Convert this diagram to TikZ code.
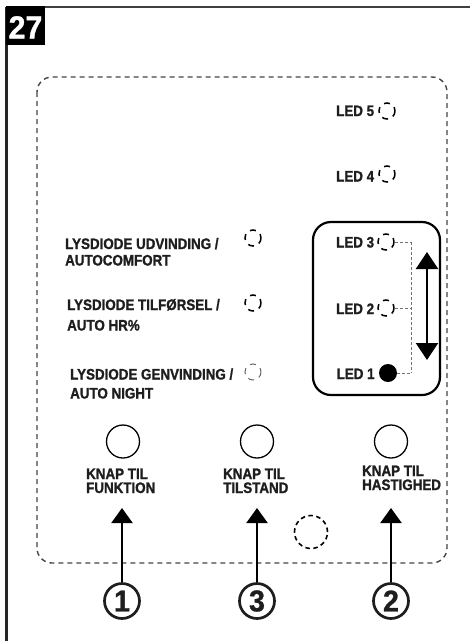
\documentclass[tikz,border=0pt]{standalone}
\usepackage{fontspec}
\setmainfont{Liberation Sans}
\newfontfamily\labfont{Liberation Sans Bold}[FakeStretch=0.88,FakeBold=1.2]
\newfontfamily\numfont{Liberation Sans Bold}[FakeStretch=0.95,FakeBold=1.0]
\usetikzlibrary{arrows.meta}
\definecolor{ink}{HTML}{1E1E1E}
\definecolor{dashgray}{HTML}{444444}
\begin{document}
\begin{tikzpicture}[x=1pt,y=-1pt,
  lab/.style={anchor=base west,inner sep=0pt,text=ink,font=\labfont\fontsize{15.2}{16}\selectfont},
  ledoff/.style={draw=black,line width=1.5pt,dash pattern=on 6pt off 5.5pt,dash phase=2pt,circle,minimum size=16pt,inner sep=0pt},
  ledfaint/.style={ledoff,draw=black!60,line width=1pt},
  knob/.style={draw=black,line width=1.3pt,circle,minimum size=33pt,inner sep=0pt},
  num/.style={draw=ink,line width=2.7pt,circle,minimum size=35pt,inner sep=0pt,text=ink,font=\numfont\fontsize{30}{30}\selectfont},
  uparrow/.style={line width=2.2pt,draw=black,-{Triangle[length=15pt,width=21pt]}},
  guide/.style={draw=black!55,line width=0.8pt,dash pattern=on 3pt off 2pt}]
\useasboundingbox (0,0) rectangle (470,641);
% outer frame
\draw[line width=1.6pt,draw=black!75] (6,7) -- (470,7);
\draw[line width=2.4pt,draw=black!85] (6.5,7) -- (6.5,641);
\fill[black] (6,6) rectangle (44.5,45);
\node[text=white,font=\numfont\fontsize{32}{32}\selectfont,inner sep=0pt,anchor=base] (fig) at (25.5,38.5) {27};
% dashed panel outline
\draw[draw=dashgray,line width=1.4pt,dash pattern=on 5pt off 4pt,rounded corners=15pt] (37,77) rectangle (447,563);
% LED 5 and 4
\node[lab] (l5) at (336,116) {LED 5};
\node[ledoff] (c5) at (387,111) {};
\node[lab] (l4) at (336,181.5) {LED 4};
\node[ledoff] (c4) at (387,174) {};
% left indicator labels
\node[lab] (u1) at (65,249) {LYSDIODE UDVINDING /};
\node[lab] (u2) at (65,265.5) {AUTOCOMFORT};
\node[ledoff] (cu) at (253,238) {};
\node[lab] (t1) at (67,310) {LYSDIODE TILFØRSEL /};
\node[lab] (t2) at (67,330.5) {AUTO HR\%};
\node[ledoff] (ct) at (253,303) {};
\node[lab] (g1) at (70,379.5) {LYSDIODE GENVINDING /};
\node[lab] (g2) at (70,398.5) {AUTO NIGHT};
\node[ledfaint] (cg) at (253,372) {};
% speed box
\draw[line width=2.2pt,rounded corners=18pt] (313,222) rectangle (440,395);
\node[lab] (l3) at (336,247.5) {LED 3};
\node[ledoff] (c3) at (386,242) {};
\node[lab] (l2) at (336,314) {LED 2};
\node[ledoff] (c2) at (386,308) {};
\node[lab] (l1) at (336.5,379) {LED 1};
\node[circle,fill=black,minimum size=18pt,inner sep=0pt] (c1) at (388,373) {};
\coordinate (g3) at (411.5,242);
\coordinate (g2c) at (411.5,308);
\coordinate (g1c) at (411.5,373);
\draw[guide] (c3.east) -- (g3);
\draw[guide] (c2.east) -- (g2c);
\draw[guide] (c1.east) -- (g1c);
\draw[guide] (g3) -- (g1c);
\coordinate (atop) at (427,252);
\coordinate (abot) at (427,360);
\draw[line width=2.2pt,{Triangle[length=17pt,width=22pt]}-{Triangle[length=17pt,width=22pt]}] (atop) -- (abot);
% buttons
\node[knob] (b1) at (123,441.5) {};
\node[knob] (b3) at (257,441.5) {};
\node[knob] (b2) at (391,441.5) {};
\node[lab] (k1a) at (86,479) {KNAP TIL};
\node[lab] (k1b) at (86,493) {FUNKTION};
\node[lab] (k3a) at (223,479) {KNAP TIL};
\node[lab] (k3b) at (223,493) {TILSTAND};
\node[lab] (k2a) at (362,476) {KNAP TIL};
\node[lab] (k2b) at (362,490) {HASTIGHED};
% sensor
\node[draw=black,line width=1.6pt,dash pattern=on 4.5pt off 3.5pt,circle,minimum size=33pt,inner sep=0pt] (sens) at (311,532) {};
% numbered callouts
\node[num] (n1) at (122,601) {1};
\node[num] (n3) at (257,601) {3};
\node[num] (n2) at (391,601) {2};
\coordinate (p1) at (122,508);
\coordinate (p3) at (257,508);
\coordinate (p2) at (391,508);
\draw[uparrow] (n1) -- (p1);
\draw[uparrow] (n3) -- (p3);
\draw[uparrow] (n2) -- (p2);
\end{tikzpicture}
\end{document}
